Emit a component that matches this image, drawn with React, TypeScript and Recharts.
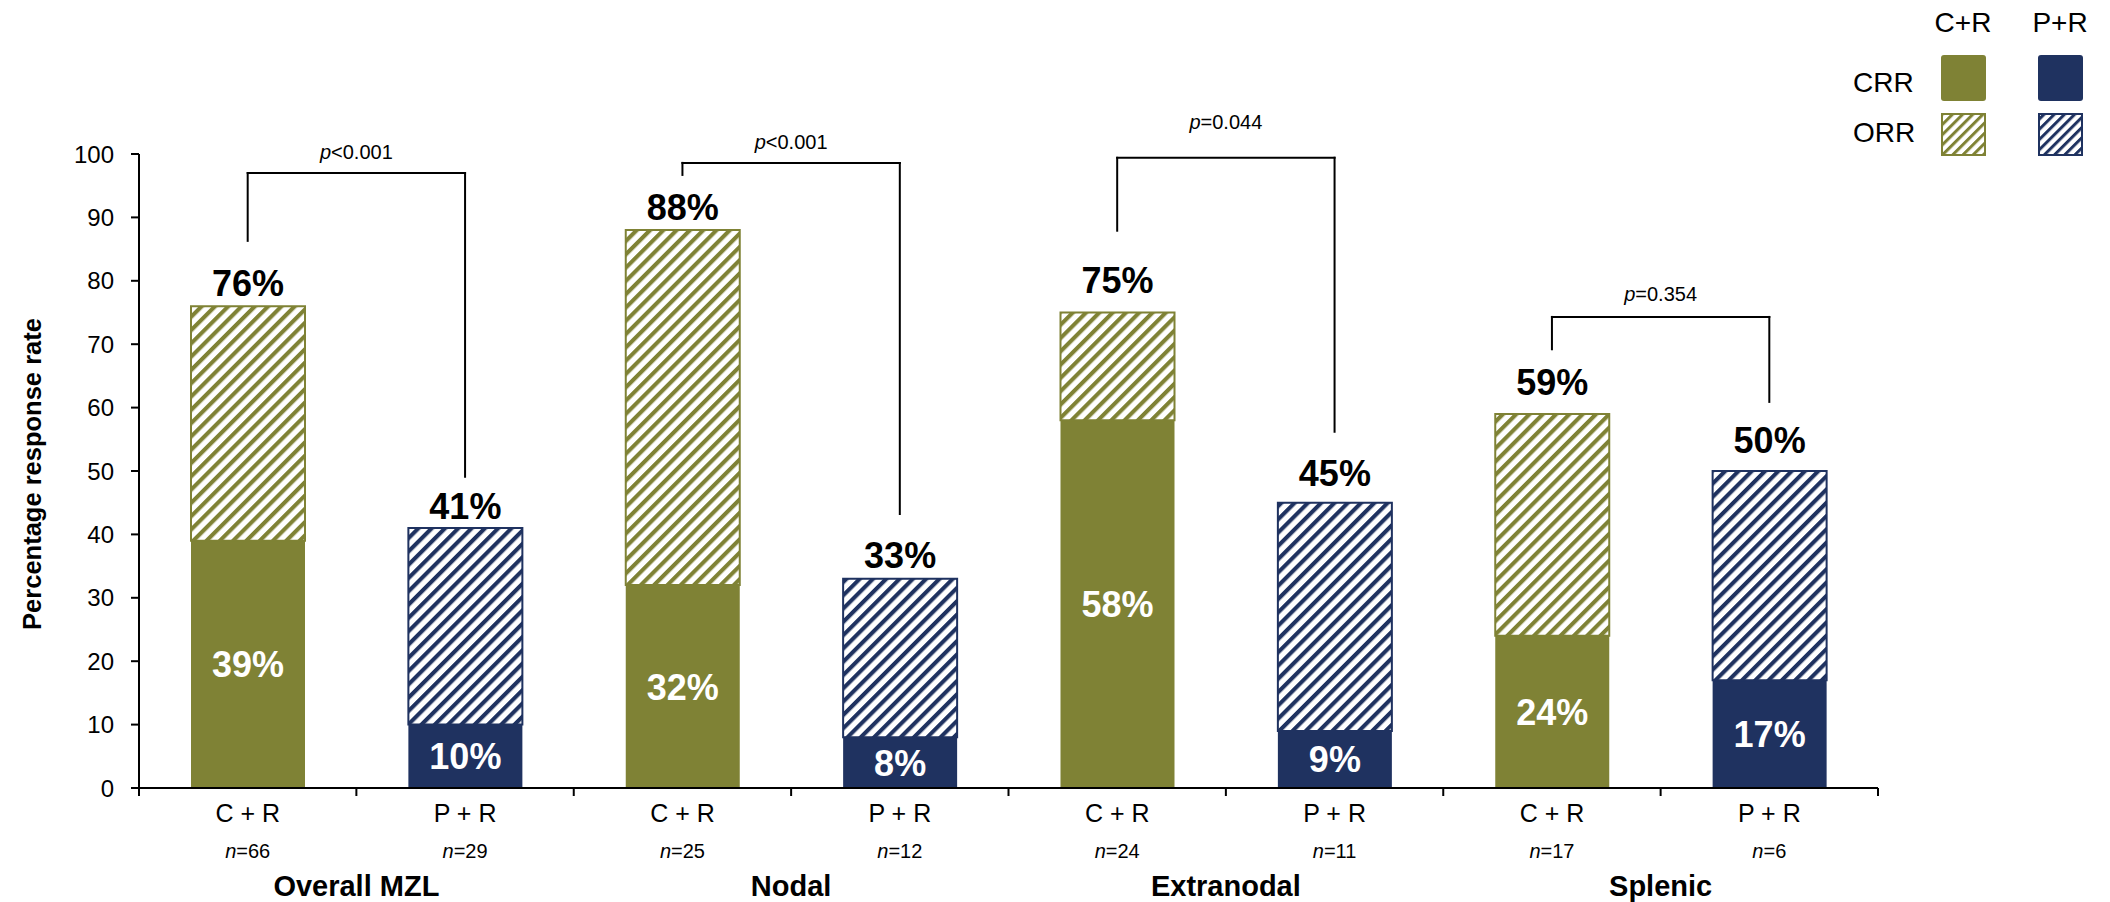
import React from 'react';
import {
  BarChart,
  Bar,
  XAxis,
  YAxis,
  Cell,
  LabelList,
  ReferenceLine,
  ReferenceDot,
} from 'recharts';

// ---------- data ----------
const groups = ['Overall MZL', 'Nodal', 'Extranodal', 'Splenic'];
const arms = ['C + R', 'P + R'];
const sampleSizes = [66, 29, 25, 12, 24, 11, 17, 6];
const crrValues = [39, 10, 32, 8, 58, 9, 24, 17]; // complete response rate, %
const orrValues = [76, 41, 88, 33, 75, 45, 59, 50]; // overall response rate, %
const yTicks = [0, 10, 20, 30, 40, 50, 60, 70, 80, 90, 100];

// p-values for C+R vs P+R within each subgroup
const pSymbols = ['<', '<', '=', '='];
const pNumbers = ['0.001', '0.001', '0.044', '0.354'];

// comparison brackets, in percentage-axis units
const bracketTop = [97.0, 98.6, 99.4, 74.3];
const bracketLeftEnd = [86.3, 96.7, 87.9, 69.2];
const bracketRightEnd = [49.1, 43.2, 56.2, 60.9];
const pTextLevel = [100.3, 102.0, 105.1, 77.9];

// ---------- styling / layout ----------
const OLIVE = '#7F8235';
const NAVY = '#1F3260';
const FONT = "'Liberation Sans', Arial, Helvetica, sans-serif";
const W = 2110;
const H = 902;
const PLOT = { left: 139, right: 1878, top: 154, bottom: 788 };
const BAND = (PLOT.right - PLOT.left) / crrValues.length;
const topLabelGap = [10, 9, 10, 11, 20, 17, 19, 18];

const rows = crrValues.map((crr, i) => ({
  key: `${groups[Math.floor(i / 2)]} | ${arms[i % 2]}`,
  group: groups[Math.floor(i / 2)],
  arm: arms[i % 2],
  n: sampleSizes[i],
  crr,
  orr: orrValues[i],
  extra: orrValues[i] - crr,
  pos: i + 0.5,
}));

const armColor = (arm: string) => (arm === arms[0] ? OLIVE : NAVY);
const armHatch = (arm: string) => (arm === arms[0] ? 'url(#hatch-olive)' : 'url(#hatch-navy)');

function boxOf(props: any) {
  const vb = props.viewBox && typeof props.viewBox.x === 'number' ? props.viewBox : props;
  return { x: Number(vb.x), y: Number(vb.y), width: Number(vb.width), height: Number(vb.height) };
}

function CrrLabel(props: any) {
  const { x, y, width, height } = boxOf(props);
  return (
    <text
      x={x + width / 2}
      y={y + height / 2}
      dy="0.36em"
      textAnchor="middle"
      fill="#fff"
      fontSize={36}
      fontWeight="bold"
      fontFamily={FONT}
    >
      {props.value}%
    </text>
  );
}

function OrrLabel(props: any) {
  const { x, y, width } = boxOf(props);
  const gap = topLabelGap[props.index] ?? 12;
  return (
    <text
      x={x + width / 2}
      y={y - gap}
      textAnchor="middle"
      fill="#000"
      fontSize={36}
      fontWeight="bold"
      fontFamily={FONT}
    >
      {props.value}%
    </text>
  );
}

function CategoryTick(props: any) {
  const x = Number(props.x);
  const y = Number(props.y);
  const i = typeof props.index === 'number' ? props.index : props.payload?.index ?? 0;
  const row = rows[i];
  const half = BAND / 2;
  return (
    <g fontFamily={FONT}>
      <line x1={x - half} x2={x - half} y1={y} y2={y + 8} stroke="#000" strokeWidth={2} />
      {i === rows.length - 1 && (
        <line x1={x + half} x2={x + half} y1={y} y2={y + 8} stroke="#000" strokeWidth={2} />
      )}
      <text x={x} y={y + 34} textAnchor="middle" fontSize={25} fill="#000">
        {row.arm}
      </text>
      <text x={x} y={y + 70} textAnchor="middle" fontSize={20} fill="#000">
        <tspan fontStyle="italic">n</tspan>={row.n}
      </text>
      {i % 2 === 0 && (
        <text x={x + half} y={y + 108} textAnchor="middle" fontSize={29} fontWeight="bold" fill="#000">
          {row.group}
        </text>
      )}
    </g>
  );
}

function AxisTitle(props: any) {
  const vb =
    props.viewBox && typeof props.viewBox.y === 'number'
      ? props.viewBox
      : { x: 0, y: PLOT.top, width: PLOT.left, height: PLOT.bottom - PLOT.top };
  const cx = vb.x + 32;
  const cy = vb.y + vb.height / 2 + 3;
  return (
    <text
      x={cx}
      y={cy}
      dy="0.36em"
      transform={`rotate(-90 ${cx} ${cy})`}
      textAnchor="middle"
      fontSize={25.5}
      fontWeight="bold"
      fill="#000"
      fontFamily={FONT}
    >
      Percentage response rate
    </text>
  );
}

function PValueText({ cx, cy, k }: { cx: number; cy: number; k: number }) {
  return (
    <text x={cx} y={cy} dy="0.36em" textAnchor="middle" fontSize={20} fill="#000" fontFamily={FONT}>
      <tspan fontStyle="italic">p</tspan>
      {pSymbols[k]}
      {pNumbers[k]}
    </text>
  );
}

function LegendKey() {
  return (
    <svg
      width={310}
      height={170}
      style={{ position: 'absolute', left: 1800, top: 0 }}
      fontFamily={FONT}
    >
      <defs>
        <pattern id="key-olive" patternUnits="userSpaceOnUse" width={7.2} height={7.2} patternTransform="rotate(45)">
          <rect width={7.2} height={7.2} fill="#fff" />
          <rect width={3} height={7.2} fill={OLIVE} />
        </pattern>
        <pattern id="key-navy" patternUnits="userSpaceOnUse" width={7.2} height={7.2} patternTransform="rotate(45)">
          <rect width={7.2} height={7.2} fill="#fff" />
          <rect width={3} height={7.2} fill={NAVY} />
        </pattern>
      </defs>
      <text x={163} y={22} dy="0.36em" textAnchor="middle" fontSize={28} fill="#000">C+R</text>
      <text x={260} y={22} dy="0.36em" textAnchor="middle" fontSize={28} fill="#000">P+R</text>
      <text x={53} y={82} dy="0.36em" fontSize={28} fill="#000">CRR</text>
      <text x={53} y={132} dy="0.36em" fontSize={28} fill="#000">ORR</text>
      <rect x={141} y={55} width={45} height={46} rx={3} fill={OLIVE} />
      <rect x={238} y={55} width={45} height={46} rx={3} fill={NAVY} />
      <rect x={142} y={114} width={43} height={41} fill="url(#key-olive)" stroke={OLIVE} strokeWidth={2} />
      <rect x={239} y={114} width={43} height={41} fill="url(#key-navy)" stroke={NAVY} strokeWidth={2} />
    </svg>
  );
}

export default function App() {
  const annotations = bracketTop.flatMap((top, k) => {
    const xl = 2 * k + 0.5;
    const xr = 2 * k + 1.5;
    const common = {
      xAxisId: 'pos',
      stroke: '#000',
      strokeWidth: 2,
      strokeLinecap: 'square' as const,
      ifOverflow: 'visible' as const,
    };
    return [
      <ReferenceLine key={`bl${k}`} {...common} segment={[{ x: xl, y: bracketLeftEnd[k] }, { x: xl, y: top }]} />,
      <ReferenceLine key={`bt${k}`} {...common} segment={[{ x: xl, y: top }, { x: xr, y: top }]} />,
      <ReferenceLine key={`br${k}`} {...common} segment={[{ x: xr, y: top }, { x: xr, y: bracketRightEnd[k] }]} />,
      <ReferenceDot
        key={`p${k}`}
        xAxisId="pos"
        x={2 * k + 1}
        y={pTextLevel[k]}
        r={0}
        ifOverflow="visible"
        shape={(p: any) => <PValueText cx={Number(p.cx)} cy={Number(p.cy)} k={k} />}
      />,
    ];
  });

  return (
    <div
      style={{
        position: 'absolute',
        left: 0,
        top: 0,
        width: W,
        height: H,
        background: '#fff',
        fontFamily: FONT,
      }}
    >
      <BarChart
        width={W}
        height={H}
        data={rows}
        margin={{ top: PLOT.top, right: W - PLOT.right, bottom: 0, left: 0 }}
      >
        <defs>
          <pattern id="hatch-olive" patternUnits="userSpaceOnUse" width={9.4} height={9.4} patternTransform="rotate(45)">
            <rect width={9.4} height={9.4} fill="#fff" />
            <rect width={4.1} height={9.4} fill={OLIVE} />
          </pattern>
          <pattern id="hatch-navy" patternUnits="userSpaceOnUse" width={9.4} height={9.4} patternTransform="rotate(45)">
            <rect width={9.4} height={9.4} fill="#fff" />
            <rect width={4.1} height={9.4} fill={NAVY} />
          </pattern>
        </defs>
        <XAxis
          xAxisId="cat"
          dataKey="key"
          type="category"
          height={H - PLOT.bottom}
          interval={0}
          tickSize={0}
          tickMargin={0}
          tickLine={false}
          axisLine={{ stroke: '#000', strokeWidth: 2 }}
          tick={CategoryTick}
        />
        <XAxis
          xAxisId="pos"
          dataKey="pos"
          type="number"
          domain={[0, rows.length]}
          allowDataOverflow
          hide
          height={0}
        />
        <YAxis
          domain={[0, 100]}
          ticks={yTicks}
          interval={0}
          width={PLOT.left}
          tickSize={8}
          tickMargin={17}
          axisLine={{ stroke: '#000', strokeWidth: 2 }}
          tickLine={{ stroke: '#000', strokeWidth: 2 }}
          tick={{ fill: '#000', fontSize: 24, fontFamily: FONT }}
          label={AxisTitle}
          allowDataOverflow
        />
        <Bar xAxisId="cat" dataKey="crr" stackId="resp" barSize={114} isAnimationActive={false}>
          {rows.map((r, i) => (
            <Cell key={`c${i}`} fill={armColor(r.arm)} />
          ))}
          <LabelList dataKey="crr" content={CrrLabel} />
        </Bar>
        <Bar xAxisId="cat" dataKey="extra" stackId="resp" barSize={114} isAnimationActive={false}>
          {rows.map((r, i) => (
            <Cell key={`o${i}`} fill={armHatch(r.arm)} stroke={armColor(r.arm)} strokeWidth={2} />
          ))}
          <LabelList dataKey="orr" content={OrrLabel} />
        </Bar>
        {annotations}
      </BarChart>
      <LegendKey />
    </div>
  );
}
